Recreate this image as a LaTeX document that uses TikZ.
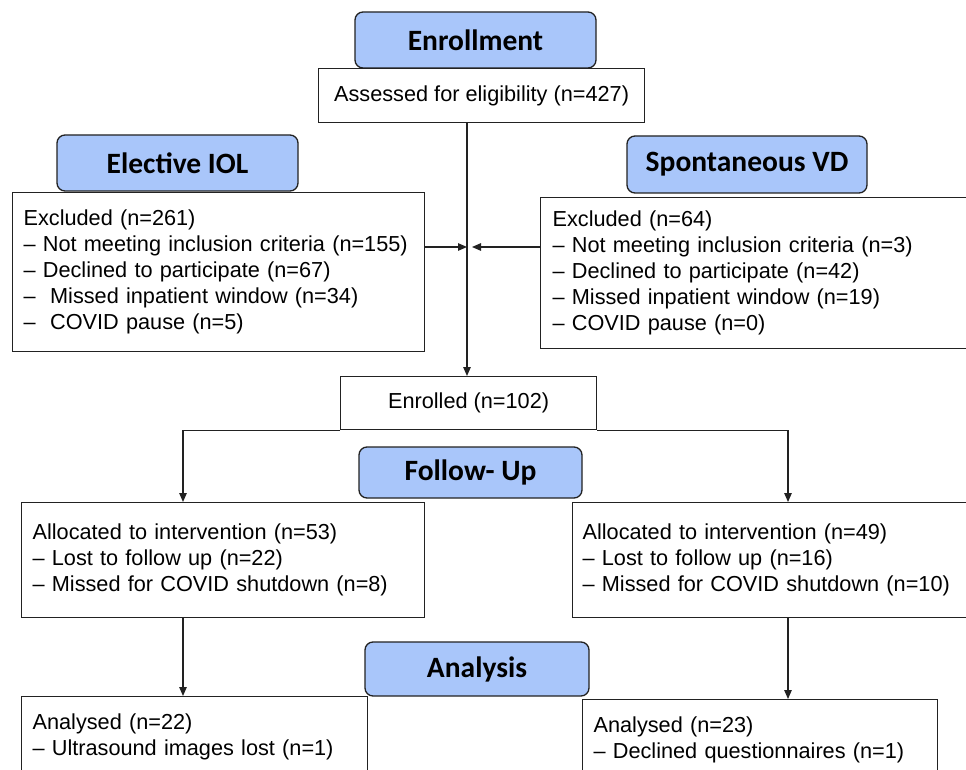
\documentclass[tikz,border=0pt]{standalone}
\usepackage{fontspec}
\setmainfont{Liberation Sans}
\newfontfamily\hdrfont{Carlito}
\usetikzlibrary{arrows.meta,calc}
\definecolor{hdrblue}{HTML}{A9C6FA}
\definecolor{linec}{HTML}{222222}
\tikzset{
  hdr/.style={draw=linec, line width=1.3pt, fill=hdrblue, rounded corners=8pt,
    font=\hdrfont\bfseries\fontsize{29.5}{32}\selectfont, inner sep=0pt, anchor=center},
  box/.style={draw=linec, line width=1.2pt, fill=white,
    font=\fontsize{21.7}{26}\selectfont, inner ysep=0pt, anchor=north west, align=left},
  cbox/.style={draw=linec, line width=1.2pt, fill=white,
    font=\fontsize{21.7}{26}\selectfont, inner sep=0pt, anchor=north west, align=center},
  conn/.style={draw=linec, line width=1.2pt},
  arr/.style={conn, -{Triangle[length=9pt,width=7.5pt]}},
}
\begin{document}
\begin{tikzpicture}[x=1pt,y=-1pt]
\useasboundingbox (0,0) rectangle (966,770);
\fill[white] (0,0) rectangle (966,770);
\clip (0,0) rectangle (966,770);

% headers
\node[hdr, minimum width=241pt, minimum height=56pt] (h1) at (475.5,40) {Enrollment};
\node[hdr, minimum width=241pt, minimum height=56pt] (h2) at (177.5,163) {Elective IOL};
\node[hdr, minimum width=240pt, minimum height=57pt] (h3) at (747,164.5) {Spontaneous VD};
\node[hdr, minimum width=223pt, minimum height=51pt] (h4) at (470.5,472.5) {Follow- Up};
\node[hdr, minimum width=224pt, minimum height=54pt] (h5) at (477,669) {Analysis};

% boxes
\node[cbox, minimum width=326pt, minimum height=54pt] (assessed) at (318,68) {Assessed for eligibility (n=427)};
\node[box, inner xsep=11pt, text width=390pt, minimum height=159pt] (exclL) at (12,192)
  {Excluded (n=261)\\
   – Not meeting inclusion criteria (n=155)\\
   – Declined to participate (n=67)\\
   –\ \ Missed inpatient window (n=34)\\
   –\ \ COVID pause (n=5)};
\node[box, inner xsep=12pt, text width=436pt, minimum height=151pt] (exclR) at (540,197)
  {Excluded (n=64)\\
   – Not meeting inclusion criteria (n=3)\\
   – Declined to participate (n=42)\\
   – Missed inpatient window (n=19)\\
   – COVID pause (n=0)};
\node[cbox, minimum width=256pt, minimum height=53pt] (enrolled) at (340,376) {Enrolled (n=102)};
\node[box, inner xsep=11pt, text width=381pt, minimum height=115pt] (allocL) at (21,502)
  {Allocated to intervention (n=53)\\
   – Lost to follow up (n=22)\\
   – Missed for COVID shutdown (n=8)};
\node[box, inner xsep=10pt, text width=400pt, minimum height=115pt] (allocR) at (572,502)
  {Allocated to intervention (n=49)\\
   – Lost to follow up (n=16)\\
   – Missed for COVID shutdown (n=10)};
\node[box, inner xsep=11pt, text width=324pt, minimum height=80pt] (anL) at (21,696)
  {Analysed (n=22)\\
   – Ultrasound images lost (n=1)};
\node[box, inner xsep=11pt, text width=333pt, minimum height=80pt] (anR) at (582,699)
  {Analysed (n=23)\\
   – Declined questionnaires (n=1)};

% connectors
\coordinate (jn) at (467,247);
\coordinate (jr) at (472,247);
\coordinate (aL) at (183,502);
\coordinate (aR) at (788,502);
\draw[arr] (assessed.south -| jn) -- (enrolled.north -| jn);
\draw[arr] (exclL.east |- jn) -- (jn);
\draw[arr] (exclR.west |- jr) -- (jr);
\draw[arr] (enrolled.south west) -| (aL);
\draw[arr] (enrolled.south east) -| (aR);
\draw[arr] (allocL.south -| aL) -- (anL.north -| aL);
\draw[arr] (allocR.south -| aR) -- (anR.north -| aR);
\end{tikzpicture}
\end{document}
